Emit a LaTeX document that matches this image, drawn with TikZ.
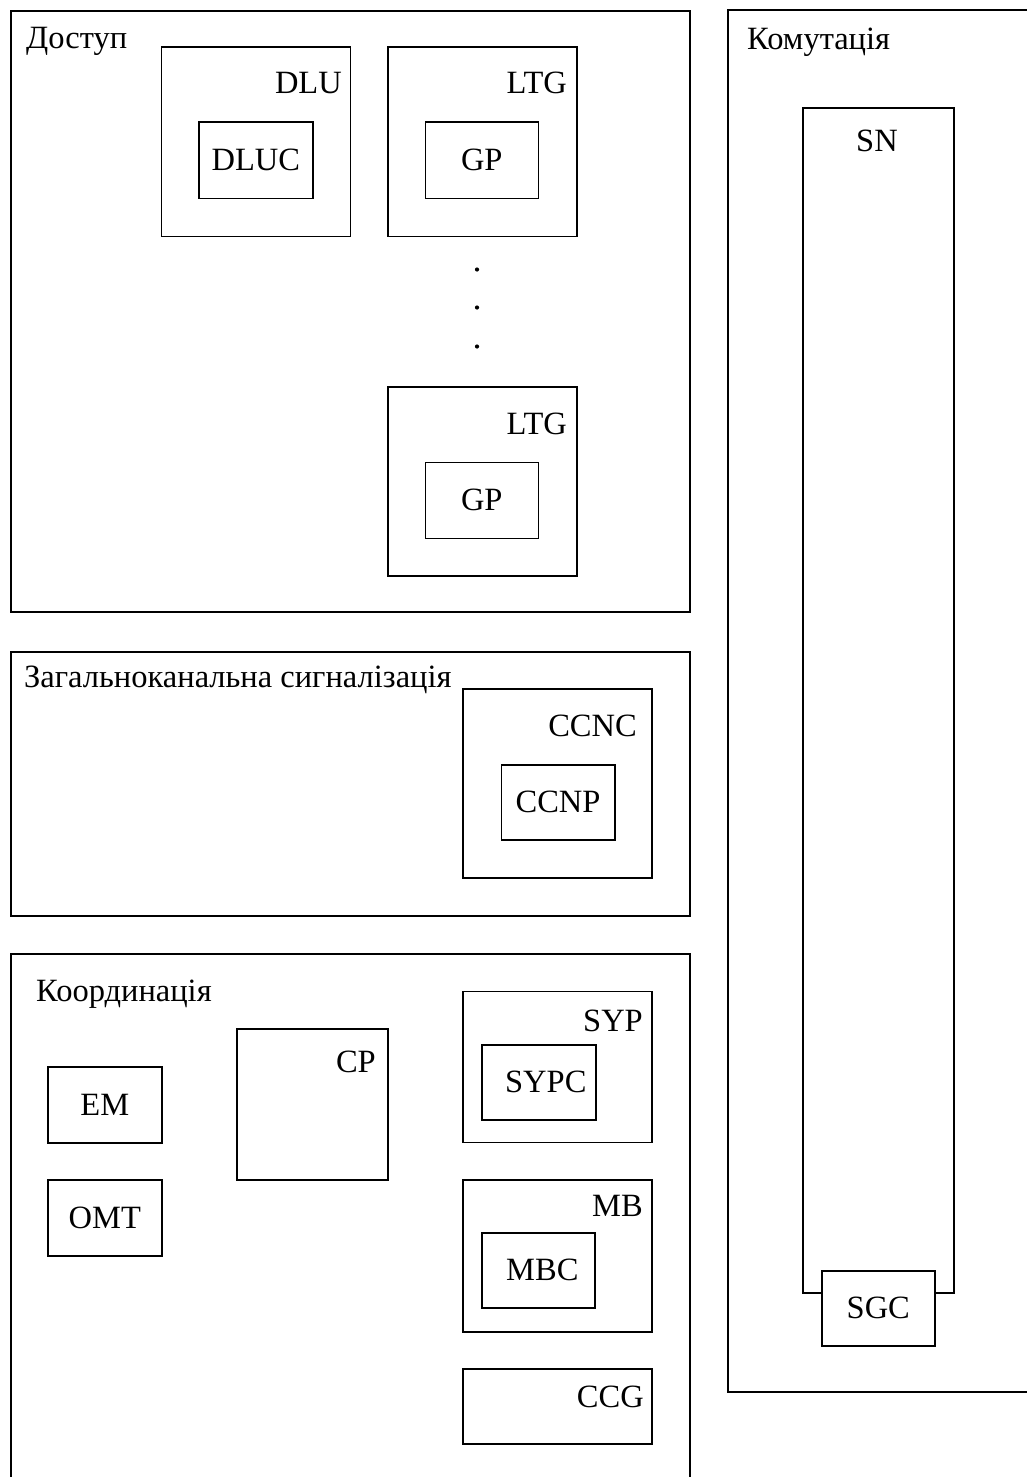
\documentclass[tikz,border=0pt]{standalone}
\usepackage{fontspec}
\setmainfont{Liberation Serif}
\begin{document}
\begin{tikzpicture}[x=1pt,y=-1pt,
  every node/.style={font=\fontsize{32.5}{39}\selectfont, inner sep=0pt},
  outerbox/.style={draw, line width=2pt, anchor=north west},
  innerbox/.style={draw, line width=1.6pt, fill=white, anchor=north west},
  lbl/.style={anchor=base east},
  title/.style={anchor=base west}]
\clip (0,0) rectangle (1027,1477);
\useasboundingbox (0,0) rectangle (1027,1477);
\fill[white] (0,0) rectangle (1027,1477);

% Доступ
\node[outerbox, minimum width=679pt, minimum height=601pt] (dostup) at (10,10) {};
\node[title] (tdostup) at (26,49) {Доступ};
\node[innerbox, minimum width=189pt, minimum height=189pt] (dlu) at (160.5,46.5) {};
\node[lbl] (tdlu) at (342,94) {DLU};
\node[innerbox, minimum width=114pt, minimum height=76pt] (dluc) at (198,121.5) {DLUC};
\node[innerbox, minimum width=189pt, minimum height=189pt] (ltga) at (387,46.5) {};
\node[lbl] (tltga) at (567,94) {LTG};
\node[innerbox, minimum width=113pt, minimum height=76pt] (gpa) at (424.5,121.5) {GP};
\fill (477,269.5) circle (2.1pt) (477,307.5) circle (2.1pt) (477,346.5) circle (2.1pt);
\node[innerbox, minimum width=189pt, minimum height=189pt] (ltgb) at (387,386) {};
\node[lbl] (tltgb) at (567,434) {LTG};
\node[innerbox, minimum width=113pt, minimum height=76pt] (gpb) at (424.5,461.5) {GP};

% Загальноканальна сигналізація
\node[outerbox, minimum width=679pt, minimum height=264pt] (zks) at (10,651) {};
\node[title] (tzks) at (24,687) {Загальноканальна сигналізація};
\node[innerbox, minimum width=189pt, minimum height=189pt] (ccnc) at (462,688) {};
\node[lbl] (tccnc) at (637,736) {CCNC};
\node[innerbox, minimum width=113.5pt, minimum height=75pt] (ccnp) at (500.5,764) {CCNP};

% Координація
\node[outerbox, minimum width=679pt, minimum height=600pt] (koord) at (10,953) {};
\node[title] (tkoord) at (36,1001) {Координація};
\node[innerbox, minimum width=114pt, minimum height=76pt] (em) at (47,1066) {EM};
\node[innerbox, minimum width=114pt, minimum height=76pt] (omt) at (47,1179) {OMT};
\node[innerbox, minimum width=151pt, minimum height=151pt] (cp) at (236,1028) {};
\node[lbl] (tcp) at (376,1072) {CP};
\node[innerbox, minimum width=189pt, minimum height=151pt] (syp) at (462,990.5) {};
\node[lbl] (tsyp) at (643,1031) {SYP};
\node[innerbox, minimum width=114pt, minimum height=75pt] (sypc) at (481,1044) {};
\node (tsypc) at ([xshift=7pt]sypc.center) {SYPC};
\node[innerbox, minimum width=189pt, minimum height=152pt] (mb) at (462,1179) {};
\node[lbl] (tmb) at (643,1216) {MB};
\node[innerbox, minimum width=113pt, minimum height=75pt] (mbc) at (481,1232) {};
\node (tmbc) at ([xshift=4pt]mbc.center) {MBC};
\node[innerbox, minimum width=189pt, minimum height=75pt] (ccg) at (462,1368) {};
\node[lbl] (tccg) at (644,1407) {CCG};

% Комутація
\node[outerbox, minimum width=400pt, minimum height=1381pt] (komut) at (727,9.5) {};
\node[title] (tkomut) at (747,50) {Комутація};
\node[innerbox, minimum width=151pt, minimum height=1185pt] (sn) at (802,107) {};
\node[anchor=base] (tsn) at (877,151) {SN};
\node[innerbox, minimum width=113pt, minimum height=75pt] (sgc) at (821,1270) {SGC};
\end{tikzpicture}
\end{document}
